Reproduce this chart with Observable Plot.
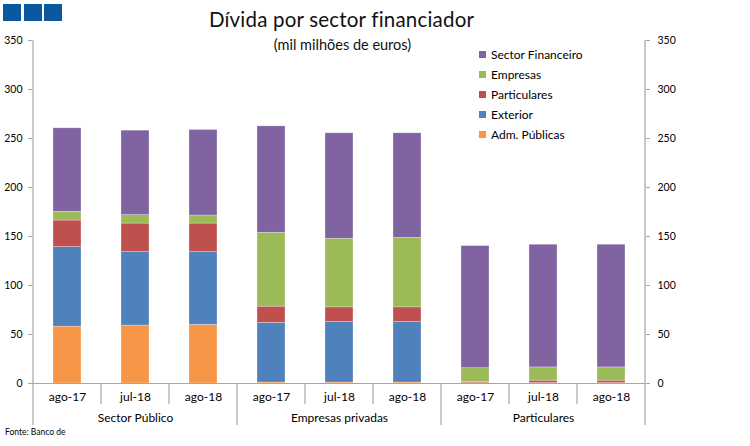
<!DOCTYPE html>
<html>
<head>
<meta charset="utf-8">
<script src="https://cdn.jsdelivr.net/npm/d3@7"></script>
<script src="https://cdn.jsdelivr.net/npm/@observablehq/plot@0.6"></script>
<style>
  html, body { margin: 0; padding: 0; background: #fff; }
  #wrap { position: relative; width: 750px; height: 446px; overflow: hidden; font-family: Lato, "Open Sans", sans-serif; color: #000; }
  #chart { position: absolute; left: 0; top: 0; }
  .logo { position: absolute; top: 4px; width: 18px; height: 17px; background: #0b58a0; }
  #title { position: absolute; left: 0; width: 683px; top: 7px; text-align: center; font-size: 20.5px; letter-spacing: 0.2px; color: #111; }
  #subtitle { position: absolute; left: 0; width: 685px; top: 36px; text-align: center; font-size: 14.5px; color: #111; }
  #legend { position: absolute; left: 479px; top: 47px; font-size: 12px; }
  #legend div { height: 20px; line-height: 16px; white-space: nowrap; }
  #legend span.sw { display: inline-block; width: 7px; height: 7px; margin-right: 5px; vertical-align: 1px; }
  #source { position: absolute; left: 5px; top: 427px; font-size: 8.5px; }
</style>
</head>
<body>
<div id="wrap">
  <div id="chart"></div>
  <div class="logo" style="left:3px"></div>
  <div class="logo" style="left:24px"></div>
  <div class="logo" style="left:44px"></div>
  <div id="title">Dívida por sector financiador</div>
  <div id="subtitle">(mil milhões de euros)</div>
  <div id="legend"></div>
  <div id="source">Fonte: Banco de</div>
</div>
<script>
// ---- data ----
const groups = ["Sector Público", "Empresas privadas", "Particulares"];
const periods = ["ago-17", "jul-18", "ago-18"];
const seriesNames = ["Adm. Públicas", "Exterior", "Particulares", "Empresas", "Sector Financeiro"]; // stack order, bottom to top
const seriesColors = ["#F79646", "#4F81BD", "#C0504D", "#9BBB59", "#8064A2"];
const admPublicas = [58.0, 59.1, 59.8, 1.0, 1.0, 1.0, 0.3, 0.4, 0.4];
const exterior = [81.2, 75.0, 74.3, 60.8, 61.8, 61.8, 0, 0, 0];
const particulares = [27.1, 29.1, 29.1, 16.6, 14.9, 14.9, 1.0, 2.5, 2.5];
const empresas = [8.9, 8.6, 8.2, 75.4, 70.0, 71.0, 14.3, 13.5, 13.5];
const sectorFinanceiro = [85.2, 86.2, 87.3, 108.6, 107.6, 106.6, 124.6, 125.2, 125.2];
const yTicks = [0, 50, 100, 150, 200, 250, 300, 350];

// ---- build table ----
const seriesValues = [admPublicas, exterior, particulares, empresas, sectorFinanceiro];
const keys = [];
groups.forEach(g => periods.forEach(p => keys.push(g + "|" + p)));
const rows = [];
keys.forEach((k, i) => {
  seriesNames.forEach((s, si) => rows.push({key: k, series: s, value: seriesValues[si][i]}));
});
const groupMid = groups.map(g => ({group: g, key: g + "|" + periods[1]}));

const axisColor = "#a6a6a6";
const plot = Plot.plot({
  width: 750,
  height: 446,
  marginLeft: 32,
  marginRight: 105,
  marginTop: 40,
  marginBottom: 63,
  style: {fontFamily: "Lato, 'Open Sans', sans-serif", fontSize: "11px", color: "#000", background: "transparent"},
  x: {domain: keys, paddingInner: 0.59, paddingOuter: 0.295, label: null},
  y: {domain: [0, 350], label: null},
  color: {domain: seriesNames, range: seriesColors},
  marks: [
    Plot.barY(rows, {x: "key", y: "value", fill: "series", order: seriesNames, stroke: "#ffffff", strokeOpacity: 0.45, strokeWidth: 0.6}),
    Plot.ruleY([0], {stroke: axisColor, strokeWidth: 1.2}),
    Plot.axisY({anchor: "left", ticks: yTicks, tickSize: 4, tickPadding: 6, stroke: axisColor, fontSize: 10.5, label: null}),
    Plot.axisY({anchor: "right", ticks: yTicks, tickSize: 4, tickPadding: 8, stroke: axisColor, fontSize: 10.5, textAnchor: "start", label: null}),
    Plot.axisX({tickSize: 0, tickPadding: 9, tickFormat: d => d.split("|")[1], fontSize: 12, label: null}),
    Plot.text(groupMid, {x: "key", text: "group", frameAnchor: "bottom", dy: 35, fontSize: 12, lineAnchor: "middle"})
  ]
});
document.getElementById("chart").appendChild(plot);

// category separators and axis lines (extending below the axis like the original)
const xs = plot.scale("x"), ys = plot.scale("y");
const y0 = ys.apply(0), yTop = ys.apply(350);
const gap = (xs.step - xs.bandwidth) / 2;
const svg = d3.select(plot);
const sep = svg.append("g").attr("stroke", axisColor).attr("stroke-width", 1.2);
for (let i = 0; i <= keys.length; i++) {
  const x = i < keys.length ? xs.apply(keys[i]) - gap : xs.apply(keys[keys.length - 1]) + xs.bandwidth + gap;
  const long = i % periods.length === 0;
  sep.append("line").attr("x1", x).attr("x2", x).attr("y1", (i === 0 || i === keys.length) ? yTop : y0)
     .attr("y2", y0 + (long ? 42 : 21));
}

// legend (top to bottom = reverse stack order)
const legend = d3.select("#legend");
seriesNames.slice().reverse().forEach(s => {
  const d = legend.append("div");
  d.append("span").attr("class", "sw").style("background", seriesColors[seriesNames.indexOf(s)]);
  d.append("span").text(s);
});
</script>
</body>
</html>
